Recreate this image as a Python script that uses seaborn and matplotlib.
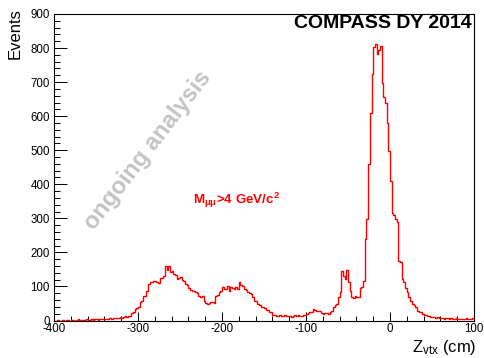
import numpy as np
import pandas as pd
import matplotlib
matplotlib.use("Agg")
import matplotlib.pyplot as plt
from matplotlib.ticker import MultipleLocator
import seaborn as sns

# ---------------- data ----------------
z_min, z_max, bin_width = -400, 100, 2   # cm

counts_m400_m340 = [0, 0, 1, 0, 0, 1, 0, 2, 1, 0, 1, 2, 0, 1, 3, 1, 2, 1, 2, 3,
                    2, 1, 3, 2, 3, 4, 2, 3, 5, 4]
counts_m340_m300 = [4, 5, 3, 6, 5, 7, 6, 8, 7, 9,
                    8, 10, 12, 11, 14, 13, 22, 24, 35, 38]
counts_m300_m260 = [40, 55, 58, 72, 73, 88, 108, 112, 114, 116,
                    117, 112, 110, 126, 124, 130, 159, 148, 160, 141]
counts_m260_m220 = [146, 137, 135, 123, 125, 129, 118, 117, 106, 105,
                    94, 90, 88, 86, 84, 80, 73, 70, 73, 58]
counts_m220_m180 = [52, 49, 50, 54, 55, 52, 73, 75, 83, 88,
                    97, 92, 92, 102, 88, 97, 95, 92, 98, 92]
counts_m180_m140 = [112, 104, 102, 92, 90, 83, 80, 78, 70, 58,
                    58, 49, 45, 39, 40, 38, 32, 30, 26, 24]
counts_m140_m100 = [15, 16, 14, 13, 15, 12, 14, 16, 13, 12,
                    14, 11, 13, 16, 12, 15, 14, 13, 15, 16]
counts_m100_m60 = [18, 22, 24, 26, 34, 30, 29, 28, 27, 22,
                   20, 21, 22, 20, 26, 29, 39, 45, 49, 68]
counts_m60_m20 = [83, 144, 131, 122, 149, 112, 88, 70, 67, 73,
                  68, 70, 94, 98, 117, 240, 298, 461, 609, 725]
counts_m20_p20 = [804, 813, 784, 794, 805, 697, 657, 640, 580, 497,
                  409, 316, 310, 298, 290, 175, 172, 123, 114, 94]
counts_p20_p60 = [83, 68, 58, 49, 45, 39, 29, 26, 24, 20,
                  16, 15, 14, 12, 10, 11, 9, 8, 10, 6]
counts_p60_p100 = [7, 8, 5, 7, 6, 5, 6, 4, 5, 7,
                   4, 5, 3, 5, 4, 6, 3, 4, 3, 8]

x_ticks = [-400, -300, -200, -100, 0, 100]
y_ticks = [0, 100, 200, 300, 400, 500, 600, 700, 800, 900]

counts = np.array(counts_m400_m340 + counts_m340_m300 + counts_m300_m260 +
                  counts_m260_m220 + counts_m220_m180 + counts_m180_m140 +
                  counts_m140_m100 + counts_m100_m60 + counts_m60_m20 +
                  counts_m20_p20 + counts_p20_p60 + counts_p60_p100, dtype=float)
edges = np.arange(z_min, z_max + bin_width, bin_width)
centers = 0.5 * (edges[:-1] + edges[1:])
df = pd.DataFrame({"z": centers, "n": counts})

# ---------------- style ----------------
sns.set_style("white")
plt.rcParams["font.family"] = ["Liberation Sans", "DejaVu Sans"]
plt.rcParams["axes.unicode_minus"] = False
plt.rcParams["mathtext.fontset"] = "custom"
plt.rcParams["mathtext.rm"] = "Liberation Sans"
plt.rcParams["mathtext.it"] = "Liberation Sans:italic"
plt.rcParams["mathtext.bf"] = "Liberation Sans:bold"
for k in ["text.color", "axes.labelcolor", "xtick.color", "ytick.color",
          "axes.edgecolor"]:
    plt.rcParams[k] = "black"

fig = plt.figure(figsize=(4.85, 3.58), dpi=100)
W, H = 485, 358
ax_l, ax_r, ax_t, ax_b = 54, 474, 14, 320.5
ax = fig.add_axes([ax_l / W, 1 - ax_b / H, (ax_r - ax_l) / W, (ax_b - ax_t) / H])

sns.histplot(data=df, x="z", weights="n", binwidth=bin_width,
             binrange=(z_min, z_max), element="step",
             fill=False, color="#ff0000", linewidth=1.0, ax=ax)

ax.set_xlim(z_min, z_max)
ax.set_ylim(0, 900)
ax.set_xlabel("")
ax.set_ylabel("")
ax.set_xticks(x_ticks)
ax.set_yticks(y_ticks)
ax.xaxis.set_minor_locator(MultipleLocator(20))
ax.yaxis.set_minor_locator(MultipleLocator(20))

for s in ax.spines.values():
    s.set_visible(True)
    s.set_color("black")
    s.set_linewidth(0.8)

ax.tick_params(axis="x", which="major", direction="in", length=6.6, width=0.7,
               pad=1.5, labelsize=8.3, colors="black", top=False, bottom=True)
ax.tick_params(axis="x", which="minor", direction="in", length=3.3, width=0.7,
               top=False, bottom=True, colors="black")
ax.tick_params(axis="y", which="major", direction="in", length=9, width=0.7,
               pad=3, labelsize=8.3, colors="black", left=True, right=False)
ax.tick_params(axis="y", which="minor", direction="in", length=4.5, width=0.7,
               left=True, right=False, colors="black")

# axis titles (ROOT-like placement)
ax.text(-0.093, 1.02, "Events", transform=ax.transAxes, rotation=90,
        ha="center", va="top", fontsize=12, color="black")
ax.text(1.007, -0.103, r"Z$_{\mathrm{vtx}}$ (cm)", transform=ax.transAxes,
        ha="right", va="baseline", fontsize=12, color="black")

# annotations
ax.text(0.995, 0.997, "COMPASS DY 2014", transform=ax.transAxes,
        ha="right", va="top", fontsize=14, fontweight="bold", color="black")
ax.text(0.331, 0.38, r"M$_{\mathbf{\mu\mu}}$>4 GeV/c$^{\mathbf{2}}$",
        transform=ax.transAxes, ha="left", va="baseline",
        fontsize=9.6, color="#ff0000", fontweight="bold")
ax.text(0.2226, 0.556, "ongoing analysis", transform=ax.transAxes,
        rotation=52.5, rotation_mode="anchor", ha="center", va="center",
        fontsize=17, fontweight="bold", color="#c4c4c4")

fig.savefig("out.png", dpi=100)
